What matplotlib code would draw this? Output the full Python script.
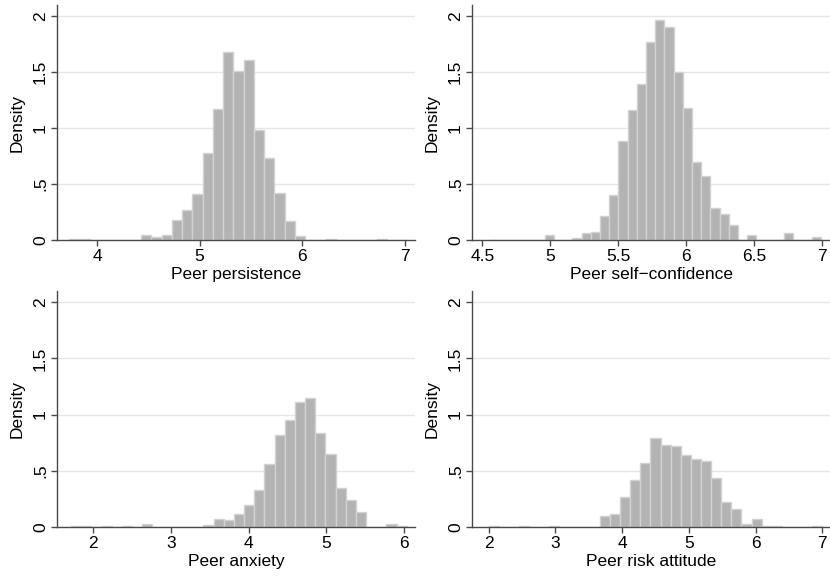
import matplotlib.pyplot as plt
import numpy as np

plt.rcParams['font.family'] = ['Liberation Sans', 'DejaVu Sans']

# histogram bins: start of first bin, bin width, densities
persist_start, persist_width = 3.73, 0.1
persist_density = [0.006, 0.005, 0, 0, 0, 0.004, 0, 0.042, 0.03, 0.045, 0.176,
                   0.265, 0.41, 0.78, 1.167, 1.68, 1.51, 1.61, 0.985, 0.73, 0.42,
                   0.17, 0.04, 0.004, 0, 0.012, 0, 0.004, 0, 0, 0.006, 0, 0.004]

conf_start, conf_width = 4.554, 0.0676
conf_density = [0, 0, 0, 0.004, 0, 0, 0.042, 0, 0, 0.02, 0.065, 0.075, 0.214,
                0.40, 0.884, 1.158, 1.39, 1.77, 1.967, 1.905, 1.503, 1.18, 0.693,
                0.574, 0.29, 0.23, 0.13, 0, 0.048, 0, 0, 0, 0.063, 0, 0, 0.03]

anx_start, anx_width = 1.72, 0.1307
anx_density = [0.006, 0.006, 0, 0.006, 0, 0.006, 0, 0.03, 0, 0, 0.004, 0.004,
               0.004, 0.02, 0.068, 0.06, 0.12, 0.2, 0.33, 0.56, 0.823, 0.954,
               1.108, 1.147, 0.84, 0.65, 0.35, 0.244, 0.137, 0, 0, 0.025, 0.005]

risk_start, risk_width = 2.0, 0.1515
risk_density = [0.006, 0, 0, 0.005, 0, 0, 0.006, 0, 0.004, 0.004, 0.004, 0.10,
                0.113, 0.267, 0.422, 0.57, 0.79, 0.73, 0.722, 0.642, 0.603,
                0.591, 0.44, 0.226, 0.158, 0.027, 0.068, 0.006, 0.005, 0, 0, 0,
                0.006]

y_ticks = [0, 0.5, 1, 1.5, 2]
y_labels = ['0', '.5', '1', '1.5', '2']

panels = [
    ("Peer persistence", persist_start, persist_width, persist_density,
     (3.61, 7.1), [4, 5, 6, 7], ['4', '5', '6', '7']),
    ("Peer self\u2212confidence", conf_start, conf_width, conf_density,
     (4.424, 7.056), [4.5, 5, 5.5, 6, 6.5, 7], ['4.5', '5', '5.5', '6', '6.5', '7']),
    ("Peer anxiety", anx_start, anx_width, anx_density,
     (1.538, 6.14), [2, 3, 4, 5, 6], ['2', '3', '4', '5', '6']),
    ("Peer risk attitude", risk_start, risk_width, risk_density,
     (1.75, 7.115), [2, 3, 4, 5, 6, 7], ['2', '3', '4', '5', '6', '7']),
]

# axes boxes in figure fractions (left, bottom, width, height)
W, H = 830, 577
boxes = [
    (57 / W, (H - 240) / H, 358 / W, 235 / H),
    (472 / W, (H - 240) / H, 358 / W, 235 / H),
    (57 / W, (H - 527) / H, 358 / W, 236 / H),
    (472 / W, (H - 527) / H, 358 / W, 236 / H),
]

fig = plt.figure(figsize=(8.3, 5.77), dpi=100)

axis_col = '#4a4a4a'
for (label, start, width, dens, xlim, xt, xtl), box in zip(panels, boxes):
    ax = fig.add_axes(box)
    edges = start + width * np.arange(len(dens))
    for y in y_ticks[1:]:
        ax.axhline(y, color='#e6e6e6', lw=1.0, zorder=0)
    ax.bar(edges, dens, width=width, align='edge', color='#b3b3b3',
           edgecolor='#d2d2d2', linewidth=1.0, zorder=2)
    ax.set_xlim(*xlim)
    ax.set_ylim(0, 2.1)
    ax.set_yticks(y_ticks)
    ax.set_yticklabels(y_labels, rotation=90, va='center')
    ax.set_xticks(xt)
    ax.set_xticklabels(xtl)
    for s in ['top', 'right']:
        ax.spines[s].set_visible(False)
    for s in ['left', 'bottom']:
        ax.spines[s].set_color(axis_col)
        ax.spines[s].set_linewidth(1.0)
        ax.spines[s].set_zorder(3)
    ax.tick_params(axis='both', colors=axis_col, labelcolor='black',
                   length=4.5, width=1.0, labelsize=12.5, pad=2)
    ax.set_ylabel('Density', fontsize=12.5, labelpad=6)
    ax.set_xlabel(label, fontsize=12.5, labelpad=2)

plt.savefig('out.png', dpi=100)
